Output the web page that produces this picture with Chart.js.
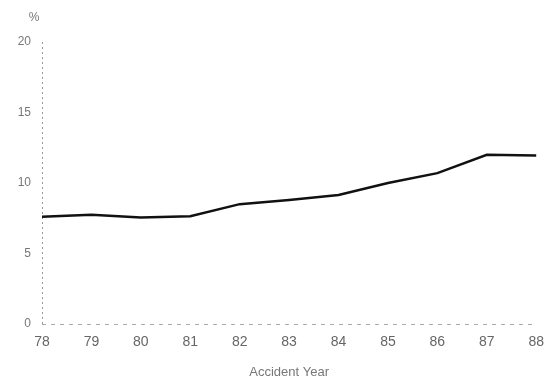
<!DOCTYPE html>
<html>
<head>
<meta charset="utf-8">
<script src="https://cdn.jsdelivr.net/npm/chart.js@4/dist/chart.umd.min.js"></script>
<style>
  html, body { margin: 0; padding: 0; background: #fff; }
  #wrap { width: 554px; height: 381px; position: relative; }
</style>
</head>
<body>
<div id="wrap"><canvas id="c" width="554" height="381"></canvas></div>
<script>
const years = ['78', '79', '80', '81', '82', '83', '84', '85', '86', '87', '88'];
const ratePct = [7.6, 7.75, 7.55, 7.65, 8.5, 8.8, 9.15, 10.0, 10.7, 12.0, 11.95];
const yTicks = [0, 5, 10, 15, 20];
const xTitle = 'Accident Year';
const yUnit = '%';

const unitPlugin = {
  id: 'unitLabel',
  afterDraw(chart) {
    const ctx = chart.ctx;
    ctx.save();
    ctx.font = '12px "Liberation Sans", Arial, sans-serif';
    ctx.fillStyle = '#777';
    ctx.textAlign = 'center';
    ctx.textBaseline = 'middle';
    ctx.fillText(yUnit, 34, 18);
    ctx.restore();
  }
};

new Chart(document.getElementById('c'), {
  type: 'line',
  data: {
    labels: years,
    datasets: [{
      data: ratePct,
      borderColor: '#111',
      borderWidth: 2.5,
      pointRadius: 0,
      tension: 0,
      fill: false
    }]
  },
  options: {
    responsive: false,
    animation: false,
    layout: { padding: { top: 42, right: 13, left: 0, bottom: 0 } },
    plugins: { legend: { display: false }, tooltip: { enabled: false } },
    scales: {
      x: {
        offset: false,
        grid: {
          display: true,
          drawTicks: false,
          lineWidth: 1,
          color: c => (c.index === 0 ? '#999' : 'rgba(0,0,0,0)')
        },
        border: { display: false, dash: [2, 3] },
        ticks: {
          padding: 10,
          maxRotation: 0,
          autoSkip: false,
          color: '#666',
          font: { family: '"Liberation Sans", Arial, sans-serif', size: 14 }
        },
        title: {
          display: true,
          text: xTitle,
          color: '#777',
          padding: { top: 4, bottom: 1 },
          font: { family: '"Liberation Sans", Arial, sans-serif', size: 13 }
        },
        afterFit(s) { s.height = 57; }
      },
      y: {
        min: 0,
        max: 20,
        afterBuildTicks(s) { s.ticks = yTicks.map(v => ({ value: v })); },
        grid: {
          display: true,
          drawTicks: false,
          lineWidth: 1,
          color: c => (c.index === 0 ? '#aaa' : 'rgba(0,0,0,0)')
        },
        border: { display: false, dash: [4, 5] },
        ticks: {
          padding: 11,
          color: '#777',
          font: { family: '"Liberation Sans", Arial, sans-serif', size: 12 }
        },
        afterFit(s) { s.width = 42; }
      }
    }
  },
  plugins: [unitPlugin]
});
</script>
</body>
</html>
